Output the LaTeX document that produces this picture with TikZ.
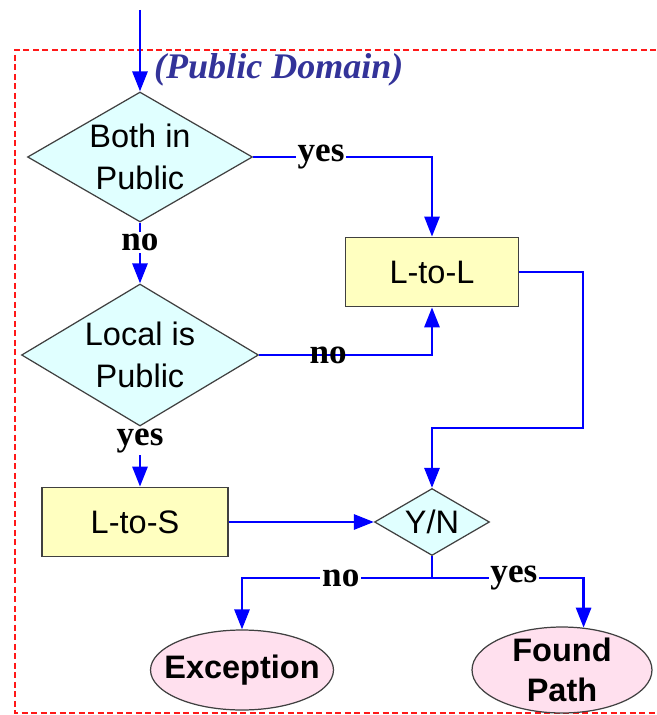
\documentclass[tikz,border=0pt]{standalone}
\usepackage{fontspec}
\setmainfont{Liberation Serif}
\setsansfont{Liberation Sans}
\usetikzlibrary{shapes.geometric,arrows.meta}
\definecolor{decfill}{HTML}{E0FFFF}
\definecolor{boxfill}{HTML}{FFFFC0}
\definecolor{endfill}{HTML}{FFE0EE}
\definecolor{domblue}{HTML}{333399}
\definecolor{edgegray}{HTML}{404040}

\begin{document}
\begin{tikzpicture}[x=0.02cm, y=-0.02cm,
    every node/.style={font=\sffamily\fontsize{18.5}{23.8}\selectfont},
    decision/.style={diamond, draw=edgegray, fill=decfill, line width=0.7pt, inner sep=0pt, align=center},
    process/.style={rectangle, draw=edgegray, fill=boxfill, line width=1pt, minimum height=1.38cm},
    terminal/.style={ellipse, draw=edgegray, fill=endfill, line width=0.7pt, inner sep=0pt, align=center,
        font=\sffamily\bfseries\fontsize{18.5}{22.7}\selectfont},
    flow/.style={draw=blue, line width=1.6pt, -{Triangle[length=0.4cm,width=0.3cm]}},
    answer/.style={font=\rmfamily\bfseries\fontsize{20}{24}\selectfont, inner sep=1pt}]
    \useasboundingbox (0,0) rectangle (656,715);
    % domain frame
    \draw[red!90, line width=1.3pt, dash pattern=on 0.12cm off 0.07cm] (656,50) -- (15,50) -- (15,713) -- (656,713);
    \node[anchor=west, text=domblue, font=\rmfamily\bfseries\itshape\fontsize{20.5}{24}\selectfont] (domain) at (148,70) {(Public Domain)};
    % decisions and steps
    \node[decision, aspect=1.73, minimum width=4.5cm, minimum height=2.6cm] (both) at (140,157) {Both in\\Public};
    \node[decision, aspect=1.67, minimum width=4.74cm, minimum height=2.84cm] (local) at (140,355) {Local is\\Public};
    \node[process, minimum width=3.46cm] (ltol) at (432,272) {L-to-L};
    \node[process, minimum width=3.72cm] (ltos) at (135,522) {L-to-S};
    \node[decision, aspect=1.72, minimum width=2.3cm, minimum height=1.34cm] (yn) at (432,522) {Y/N};
    \node[terminal, minimum width=3.66cm, minimum height=1.6cm, inner xsep=-0.3cm] (exc) at (242,670) {Exception};
    \node[terminal, minimum width=3.6cm, minimum height=1.72cm, inner ysep=-2pt] (found) at (562,670) {Found\\Path};
    \coordinate (start) at (140,10);
    \coordinate (turn) at (583,428);
    \coordinate (split) at (432,578);
    % connectors
    \draw[flow] (start) -- (both.north);
    \draw[flow] (both.east) -| node[answer, pos=0.19, fill=white] {yes} (ltol.north);
    \draw[flow] (both.south) -- node[answer, pos=0.33, fill=white] {no} (local.north);
    \draw[flow] (local.east) -| node[answer, pos=0.2] {no} (ltol.south);
    \draw[flow] (local.south) -- node[answer, pos=0.24, fill=white] {yes} (local.south |- ltos.north);
    \draw[flow] (ltos.east) -- (yn.west);
    \draw[flow] (ltol.east) -| (turn) -| (yn.north);
    \draw[draw=blue, line width=1.6pt] (yn.south) -- (split);
    \draw[flow] (split) -| node[answer, pos=0.24, fill=white] {no} (exc.north);
    \draw[flow] (split) -| node[answer, pos=0.27, fill=white] {yes} (found.63);
\end{tikzpicture}
\end{document}
